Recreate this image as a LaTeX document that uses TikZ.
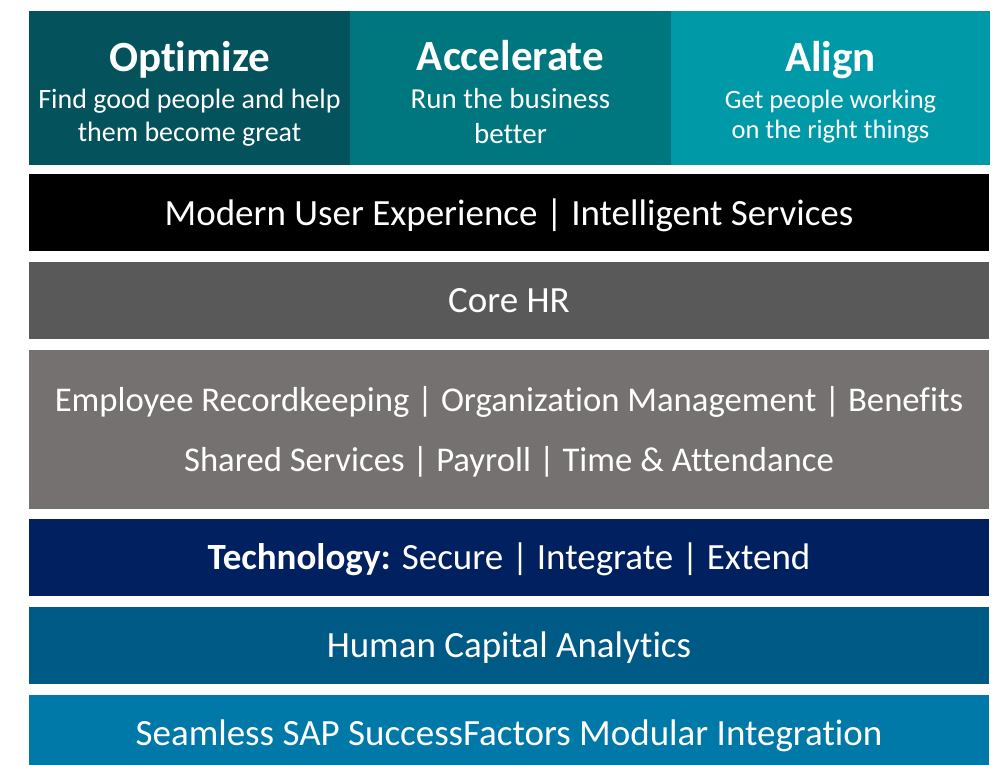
\documentclass[tikz,border=0pt]{standalone}
\usepackage{fontspec}
\setmainfont{Carlito}[Ligatures={TeX,NoCommon}]
\usepackage{tikz}
\usetikzlibrary{positioning}
\definecolor{optcol}{HTML}{04525B}
\definecolor{acccol}{HTML}{00767F}
\definecolor{alicol}{HTML}{0099A8}
\definecolor{corecol}{HTML}{595959}
\definecolor{recol}{HTML}{767171}
\definecolor{techcol}{HTML}{002060}
\definecolor{hcacol}{HTML}{005A86}
\definecolor{seamcol}{HTML}{0078A8}
\tikzstyle{pillar}=[rectangle, inner sep=0pt, minimum height=154pt]
\tikzstyle{band}=[rectangle, inner sep=0pt, minimum width=960pt, minimum height=77pt]
\tikzstyle{head}=[white, anchor=base, inner sep=0pt, font=\fontsize{43}{50}\selectfont\bfseries]
\tikzstyle{sub}=[white, anchor=base, inner sep=0pt, font=\fontsize{28}{33}\selectfont]
\tikzstyle{txt}=[white, anchor=base, inner sep=0pt, font=\fontsize{37}{44}\selectfont]

\begin{document}
\begin{tikzpicture}[x=1pt,y=-1pt]
\useasboundingbox (0,0) rectangle (1001,764);
% top pillars
\node[pillar, fill=optcol, minimum width=321pt] (opt) at (189.5,88) {};
\node[pillar, fill=acccol, minimum width=321pt] (acc) at (510.5,88) {};
\node[pillar, fill=alicol, minimum width=319pt] (ali) at (830.5,88) {};
\node[head] (optH) at (189.5,71.5) {Optimize};
\node[sub] (optA) at (189.5,108.3) {Find good people and help};
\node[sub] (optB) at (189.5,141.7) {them become great};
\node[head] (accH) at (510.5,70.5) {Accelerate};
\node[sub, font=\fontsize{29}{33}\selectfont] (accA) at (510.5,108.3) {Run the business};
\node[sub, font=\fontsize{29}{33}\selectfont] (accB) at (510.5,143.3) {better};
\node[head] (aliH) at (830.5,71.5) {Align};
\node[sub, font=\fontsize{26.5}{33}\selectfont] (aliA) at (830.5,108.3) {Get people working};
\node[sub, font=\fontsize{26.5}{33}\selectfont] (aliB) at (830.5,138.5) {on the right things};
% bands
\node[band, fill=black] (ux) at (509,212.5) {};
\node[band, fill=corecol] (core) at (509,300.5) {};
\node[band, fill=recol, minimum height=159pt] (rec) at (509,429.5) {};
\node[band, fill=techcol] (tech) at (509,557.5) {};
\node[band, fill=hcacol] (hca) at (509,645.5) {};
\node[band, fill=seamcol] (seam) at (509,733.5) {};
\node[txt] (uxT) at (509,225) {Modern User Experience | Intelligent Services};
\node[txt] (coreT) at (509,312.5) {Core HR};
\node[txt, font=\fontsize{34.7}{40}\selectfont] (recA) at (509,411.7) {Employee Recordkeeping | Organization Management | Benefits};
\node[txt, font=\fontsize{34.7}{40}\selectfont] (recB) at (509,471.7) {Shared Services | Payroll | Time \& Attendance};
\node[txt] (techT) at (509,569) {\textbf{Technology:} Secure | Integrate | Extend};
\node[txt] (hcaT) at (509,657.5) {Human Capital Analytics};
\node[txt] (seamT) at (509,745.7) {Seamless SAP SuccessFactors Modular Integration};
\end{tikzpicture}
\end{document}
